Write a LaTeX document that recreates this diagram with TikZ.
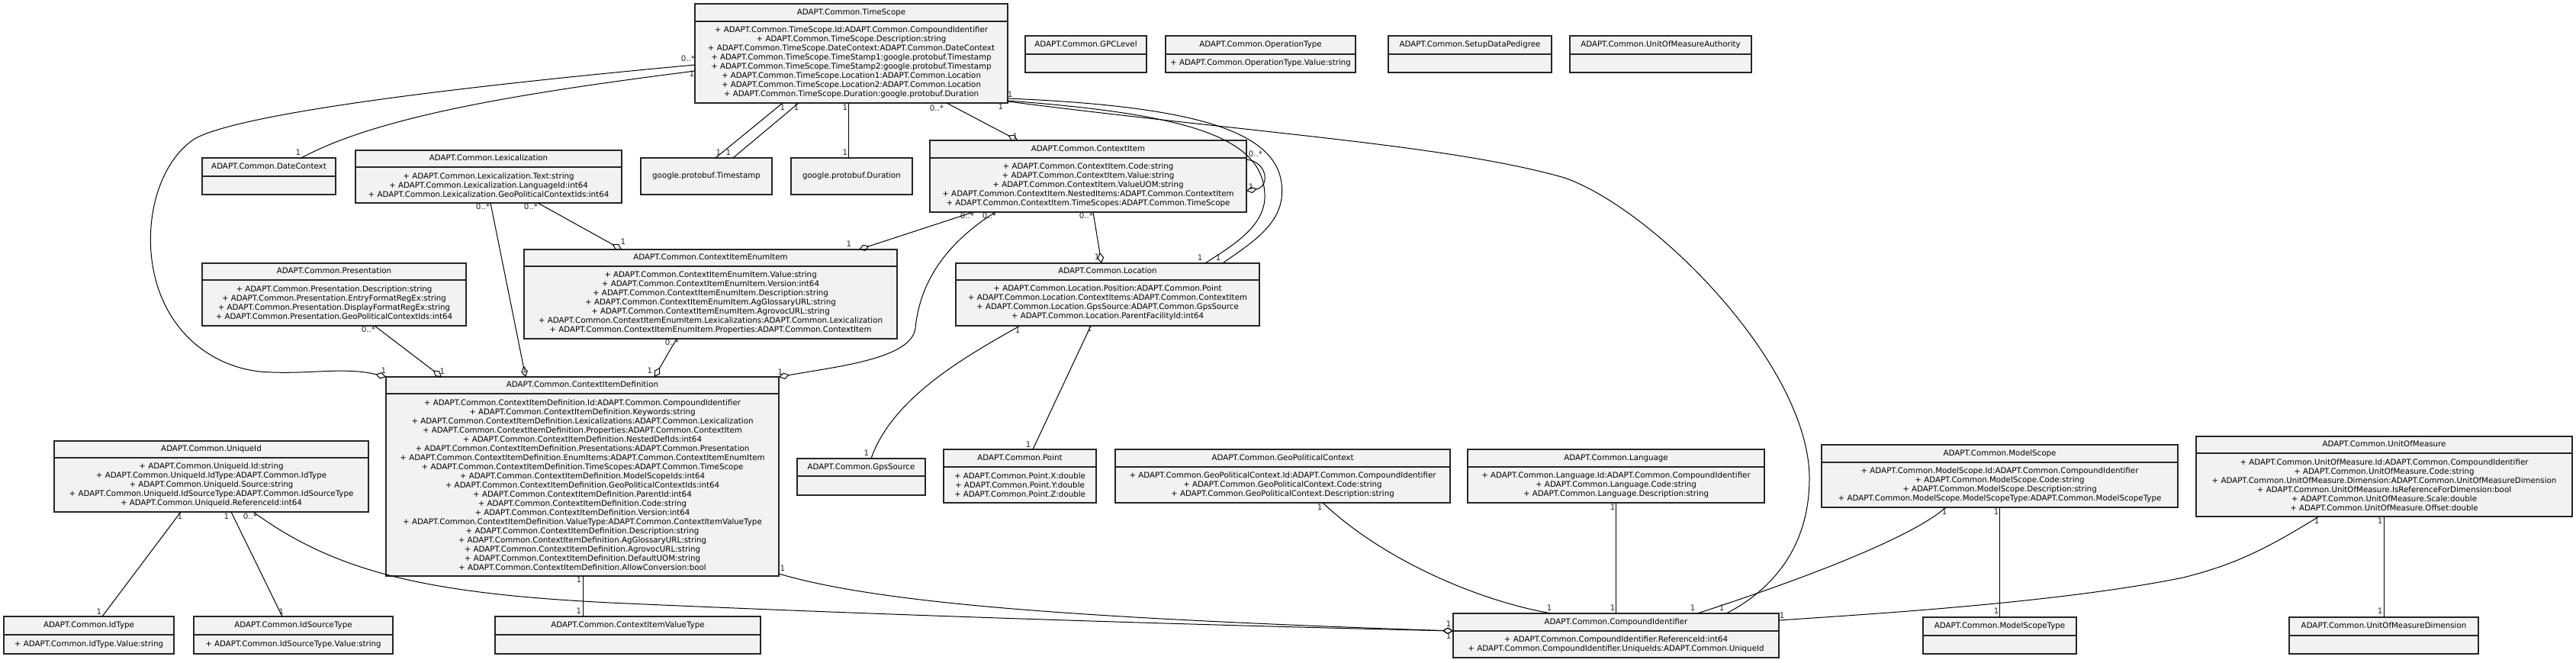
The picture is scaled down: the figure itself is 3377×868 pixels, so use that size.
\documentclass[tikz,border=0pt]{standalone}
\usepackage{fontspec}
\setmainfont{DejaVu Sans}
\usetikzlibrary{arrows.meta,fit}
\definecolor{umlfill}{HTML}{F2F2F2}
\newcommand\umlfont{\fontsize{7.7pt}{9pt}\selectfont}
\tikzset{
  umlbox/.style={draw=black!85, line width=1.3pt, fill=umlfill, inner sep=0pt, outer sep=0pt},
  umlsep/.style={draw=black!85, line width=1.3pt},
  umltitle/.style={inner sep=0pt, font=\umlfont, text height=5.8pt, text depth=1.7pt},
  umlattr/.style={inner sep=0pt, align=center, font=\umlfont},
  assoc/.style={draw=black, line width=0.75pt},
  aggr/.style={assoc, -{Diamond[open, length=10.5pt, width=6.5pt]}},
  mult/.style={inner sep=0pt, font=\umlfont, text=black!85},
}
% name, x1, y1, x2, y2, ydiv, title, attributes
\newcommand\umlclass[8]{%
  \node[umlbox, fit={(#2,#3) (#4,#5)}] (#1) {};
  \draw[umlsep] (#2,#6) -- (#4,#6);
  \node[umltitle] (#1-t) at ({(#2+#4)/2},{(#3+#6)/2}) {#7};
  \node[umlattr] (#1-a) at ({(#2+#4)/2},{(#6+#5)/2}) {#8};
}
% name, x1, y1, x2, y2, text
\newcommand\umlsimple[6]{%
  \node[umlbox, fit={(#2,#3) (#4,#5)}] (#1) {};
  \node[umltitle] (#1-t) at ({(#2+#4)/2},{(#3+#5)/2}) {#6};
}
\begin{document}
\begin{tikzpicture}[x=0.75pt,y=-0.75pt]
\useasboundingbox (0,0) rectangle (3377,868);
\fill[white] (0,0) rectangle (3377,868);

% ---------------- classes ----------------
\umlclass{ts}{911}{5}{1321}{135}{28}{ADAPT.Common.TimeScope}{%
+ ADAPT.Common.TimeScope.Id:ADAPT.Common.CompoundIdentifier\\
+ ADAPT.Common.TimeScope.Description:string\\
+ ADAPT.Common.TimeScope.DateContext:ADAPT.Common.DateContext\\
+ ADAPT.Common.TimeScope.TimeStamp1:google.protobuf.Timestamp\\
+ ADAPT.Common.TimeScope.TimeStamp2:google.protobuf.Timestamp\\
+ ADAPT.Common.TimeScope.Location1:ADAPT.Common.Location\\
+ ADAPT.Common.TimeScope.Location2:ADAPT.Common.Location\\
+ ADAPT.Common.TimeScope.Duration:google.protobuf.Duration}

\umlclass{gpc}{1344}{47}{1503}{95}{71}{ADAPT.Common.GPCLevel}{}
\umlclass{opt}{1528}{47}{1777}{95}{71}{ADAPT.Common.OperationType}{+ ADAPT.Common.OperationType.Value:string}
\umlclass{sdp}{1820}{47}{2034}{95}{71}{ADAPT.Common.SetupDataPedigree}{}
\umlclass{uoma}{2058}{47}{2296}{95}{71}{ADAPT.Common.UnitOfMeasureAuthority}{}

\umlclass{ci}{1219}{184}{1634}{278}{207}{ADAPT.Common.ContextItem}{%
+ ADAPT.Common.ContextItem.Code:string\\
+ ADAPT.Common.ContextItem.Value:string\\
+ ADAPT.Common.ContextItem.ValueUOM:string\\
+ ADAPT.Common.ContextItem.NestedItems:ADAPT.Common.ContextItem\\
+ ADAPT.Common.ContextItem.TimeScopes:ADAPT.Common.TimeScope}

\umlclass{loc}{1253}{345}{1651}{427}{367}{ADAPT.Common.Location}{%
+ ADAPT.Common.Location.Position:ADAPT.Common.Point\\
+ ADAPT.Common.Location.ContextItems:ADAPT.Common.ContextItem\\
+ ADAPT.Common.Location.GpsSource:ADAPT.Common.GpsSource\\
+ ADAPT.Common.Location.ParentFacilityId:int64}

\umlclass{dc}{265}{207}{440}{255}{231}{ADAPT.Common.DateContext}{}

\umlclass{lex}{466}{197}{815}{266}{219}{ADAPT.Common.Lexicalization}{%
+ ADAPT.Common.Lexicalization.Text:string\\
+ ADAPT.Common.Lexicalization.LanguageId:int64\\
+ ADAPT.Common.Lexicalization.GeoPoliticalContextIds:int64}

\umlsimple{tstamp}{840}{207}{1012}{255}{google.protobuf.Timestamp}
\umlsimple{dur}{1037}{207}{1196}{255}{google.protobuf.Duration}

\umlclass{pres}{265}{345}{611}{427}{367}{ADAPT.Common.Presentation}{%
+ ADAPT.Common.Presentation.Description:string\\
+ ADAPT.Common.Presentation.EntryFormatRegEx:string\\
+ ADAPT.Common.Presentation.DisplayFormatRegEx:string\\
+ ADAPT.Common.Presentation.GeoPoliticalContextIds:int64}

\umlclass{cei}{687}{327}{1176}{444}{349}{ADAPT.Common.ContextItemEnumItem}{%
+ ADAPT.Common.ContextItemEnumItem.Value:string\\
+ ADAPT.Common.ContextItemEnumItem.Version:int64\\
+ ADAPT.Common.ContextItemEnumItem.Description:string\\
+ ADAPT.Common.ContextItemEnumItem.AgGlossaryURL:string\\
+ ADAPT.Common.ContextItemEnumItem.AgrovocURL:string\\
+ ADAPT.Common.ContextItemEnumItem.Lexicalizations:ADAPT.Common.Lexicalization\\
+ ADAPT.Common.ContextItemEnumItem.Properties:ADAPT.Common.ContextItem}

\umlclass{cid}{506}{494}{1021}{755}{516}{ADAPT.Common.ContextItemDefinition}{%
+ ADAPT.Common.ContextItemDefinition.Id:ADAPT.Common.CompoundIdentifier\\
+ ADAPT.Common.ContextItemDefinition.Keywords:string\\
+ ADAPT.Common.ContextItemDefinition.Lexicalizations:ADAPT.Common.Lexicalization\\
+ ADAPT.Common.ContextItemDefinition.Properties:ADAPT.Common.ContextItem\\
+ ADAPT.Common.ContextItemDefinition.NestedDefIds:int64\\
+ ADAPT.Common.ContextItemDefinition.Presentations:ADAPT.Common.Presentation\\
+ ADAPT.Common.ContextItemDefinition.EnumItems:ADAPT.Common.ContextItemEnumItem\\
+ ADAPT.Common.ContextItemDefinition.TimeScopes:ADAPT.Common.TimeScope\\
+ ADAPT.Common.ContextItemDefinition.ModelScopeIds:int64\\
+ ADAPT.Common.ContextItemDefinition.GeoPoliticalContextIds:int64\\
+ ADAPT.Common.ContextItemDefinition.ParentId:int64\\
+ ADAPT.Common.ContextItemDefinition.Code:string\\
+ ADAPT.Common.ContextItemDefinition.Version:int64\\
+ ADAPT.Common.ContextItemDefinition.ValueType:ADAPT.Common.ContextItemValueType\\
+ ADAPT.Common.ContextItemDefinition.Description:string\\
+ ADAPT.Common.ContextItemDefinition.AgGlossaryURL:string\\
+ ADAPT.Common.ContextItemDefinition.AgrovocURL:string\\
+ ADAPT.Common.ContextItemDefinition.DefaultUOM:string\\
+ ADAPT.Common.ContextItemDefinition.AllowConversion:bool}

\umlclass{uid}{71}{578}{483}{671}{600}{ADAPT.Common.UniqueId}{%
+ ADAPT.Common.UniqueId.Id:string\\
+ ADAPT.Common.UniqueId.IdType:ADAPT.Common.IdType\\
+ ADAPT.Common.UniqueId.Source:string\\
+ ADAPT.Common.UniqueId.IdSourceType:ADAPT.Common.IdSourceType\\
+ ADAPT.Common.UniqueId.ReferenceId:int64}

\umlclass{idt}{5}{808}{228}{857}{832}{ADAPT.Common.IdType}{+ ADAPT.Common.IdType.Value:string}
\umlclass{idst}{254}{808}{515}{857}{832}{ADAPT.Common.IdSourceType}{+ ADAPT.Common.IdSourceType.Value:string}
\umlclass{civt}{649}{808}{997}{857}{832}{ADAPT.Common.ContextItemValueType}{}
\umlclass{gps}{1045}{601}{1213}{649}{624}{ADAPT.Common.GpsSource}{}

\umlclass{pt}{1237}{589}{1437}{659}{612}{ADAPT.Common.Point}{%
+ ADAPT.Common.Point.X:double\\
+ ADAPT.Common.Point.Y:double\\
+ ADAPT.Common.Point.Z:double}

\umlclass{gpctx}{1462}{589}{1901}{659}{612}{ADAPT.Common.GeoPoliticalContext}{%
+ ADAPT.Common.GeoPoliticalContext.Id:ADAPT.Common.CompoundIdentifier\\
+ ADAPT.Common.GeoPoliticalContext.Code:string\\
+ ADAPT.Common.GeoPoliticalContext.Description:string}

\umlclass{lang}{1924}{589}{2313}{659}{612}{ADAPT.Common.Language}{%
+ ADAPT.Common.Language.Id:ADAPT.Common.CompoundIdentifier\\
+ ADAPT.Common.Language.Code:string\\
+ ADAPT.Common.Language.Description:string}

\umlclass{cpid}{1905}{804}{2332}{862}{827}{ADAPT.Common.CompoundIdentifier}{%
+ ADAPT.Common.CompoundIdentifier.ReferenceId:int64\\
+ ADAPT.Common.CompoundIdentifier.UniqueIds:ADAPT.Common.UniqueId}

\umlclass{ms}{2388}{583}{2855}{665}{606}{ADAPT.Common.ModelScope}{%
+ ADAPT.Common.ModelScope.Id:ADAPT.Common.CompoundIdentifier\\
+ ADAPT.Common.ModelScope.Code:string\\
+ ADAPT.Common.ModelScope.Description:string\\
+ ADAPT.Common.ModelScope.ModelScopeType:ADAPT.Common.ModelScopeType}

\umlclass{mst}{2521}{809}{2722}{857}{833}{ADAPT.Common.ModelScopeType}{}

\umlclass{uom}{2879}{572}{3372}{677}{594}{ADAPT.Common.UnitOfMeasure}{%
+ ADAPT.Common.UnitOfMeasure.Id:ADAPT.Common.CompoundIdentifier\\
+ ADAPT.Common.UnitOfMeasure.Code:string\\
+ ADAPT.Common.UnitOfMeasure.Dimension:ADAPT.Common.UnitOfMeasureDimension\\
+ ADAPT.Common.UnitOfMeasure.IsReferenceForDimension:bool\\
+ ADAPT.Common.UnitOfMeasure.Scale:double\\
+ ADAPT.Common.UnitOfMeasure.Offset:double}

\umlclass{uomd}{3001}{809}{3249}{857}{833}{ADAPT.Common.UnitOfMeasureDimension}{}

% ---------------- connectors ----------------
% TimeScope -> ContextItemDefinition (big left loop)
\draw[aggr] ([shift={(0,80)}]ts.north west) .. controls (750,100) and (330,140) .. (255,182)
  .. controls (205,215) and (185,300) .. (205,370)
  .. controls (225,440) and (280,480) .. (340,487)
  .. controls (400,492) and (450,480) .. (cid.north west);
% TimeScope -> DateContext
\draw[assoc] ([shift={(0,88)}]ts.north west) .. controls (700,120) and (500,150) .. ([shift={(130,0)}]dc.north west);
% TimeScope -> Timestamp (x2)
\draw[assoc] ([shift={(115,130)}]ts.north west) -- ([shift={(98,0)}]tstamp.north west);
\draw[assoc] ([shift={(136,130)}]ts.north west) -- ([shift={(121,0)}]tstamp.north west);
% TimeScope -> Duration
\draw[assoc] ([shift={(201,130)}]ts.north west) -- ([shift={(75,0)}]dur.north west);
% TimeScope -> ContextItem
\draw[aggr] ([shift={(330,130)}]ts.north west) -- ([shift={(115,0)}]ci.north west);
% TimeScope -> Location (x2)
\draw[assoc] ([shift={(410,127)}]ts.north west) .. controls (1560,150) and (1660,180) .. (1658,260)
  .. controls (1656,300) and (1610,325) .. ([shift={(327,0)}]loc.north west);
\draw[assoc] ([shift={(410,124)}]ts.north west) .. controls (1580,140) and (1690,175) .. (1680,260)
  .. controls (1675,300) and (1630,325) .. ([shift={(350,0)}]loc.north west);
% TimeScope -> CompoundIdentifier
\draw[assoc] ([shift={(410,128)}]ts.north west) .. controls (1650,175) and (1900,190) .. (2051,233)
  .. controls (2170,275) and (2372,480) .. (2372,627)
  .. controls (2372,720) and (2320,775) .. ([shift={(358,0)}]cpid.north west);
% ContextItem self loop
\draw[aggr] ([shift={(415,25)}]ci.north west) .. controls (1662,212) and (1665,245) .. ([shift={(415,66)}]ci.north west);
% ContextItem -> Location
\draw[aggr] ([shift={(214,94)}]ci.north west) -- ([shift={(191,0)}]loc.north west);
% ContextItem -> ContextItemEnumItem
\draw[aggr] ([shift={(57,94)}]ci.north west) -- ([shift={(439,0)}]cei.north west);
% ContextItem -> ContextItemDefinition
\draw[aggr] ([shift={(86,94)}]ci.north west) .. controls (1230,325) and (1205,380) .. (1200,430)
  .. controls (1195,470) and (1100,480) .. (cid.north east);
% Lexicalization -> EnumItem, -> Definition
\draw[aggr] ([shift={(239,69)}]lex.north west) -- ([shift={(128,0)}]cei.north west);
\draw[aggr] ([shift={(177,69)}]lex.north west) -- ([shift={(183,0)}]cid.north west);
% Presentation -> Definition
\draw[aggr] ([shift={(226,82)}]pres.north west) -- ([shift={(73,0)}]cid.north west);
% EnumItem -> Definition
\draw[aggr] ([shift={(200,117)}]cei.north west) -- ([shift={(352,0)}]cid.north west);
% Definition -> ValueType
\draw[assoc] ([shift={(258,261)}]cid.north west) -- ([shift={(115,0)}]civt.north west);
% Definition -> CompoundIdentifier
\draw[aggr] ([shift={(515,258)}]cid.north west) .. controls (1150,790) and (1400,810) .. ([shift={(0,23)}]cpid.north west);
% UniqueId -> CompoundIdentifier
\draw[aggr] ([shift={(261,93)}]uid.north west) .. controls (440,750) and (560,778) .. (800,790)
  .. controls (1200,808) and (1600,820) .. ([shift={(0,23)}]cpid.north west);
% UniqueId -> IdType, IdSourceType
\draw[assoc] ([shift={(166,93)}]uid.north west) -- ([shift={(129,0)}]idt.north west);
\draw[assoc] ([shift={(232,93)}]uid.north west) -- ([shift={(116,0)}]idst.north west);
% Location -> GpsSource, Point
\draw[assoc] ([shift={(84,82)}]loc.north west) .. controls (1270,465) and (1170,520) .. ([shift={(97,0)}]gps.north west);
\draw[assoc] ([shift={(177,82)}]loc.north west) -- ([shift={(117,0)}]pt.north west);
% GeoPoliticalContext, Language, ModelScope -> CompoundIdentifier
\draw[assoc] ([shift={(272,70)}]gpctx.north west) .. controls (1820,740) and (1950,790) .. ([shift={(129,0)}]cpid.north west);
\draw[assoc] ([shift={(194,70)}]lang.north west) -- ([shift={(213,0)}]cpid.north west);
\draw[assoc] ([shift={(163,82)}]ms.north west) .. controls (2500,710) and (2330,770) .. ([shift={(320,0)}]cpid.north west);
% ModelScope -> ModelScopeType
\draw[assoc] ([shift={(233,82)}]ms.north west) -- ([shift={(100,0)}]mst.north west);
% UnitOfMeasure -> CompoundIdentifier, Dimension
\draw[assoc] ([shift={(161,105)}]uom.north west) .. controls (2970,720) and (2930,740) .. (2862,757)
  .. controls (2700,790) and (2450,805) .. ([shift={(427,9)}]cpid.north west);
\draw[assoc] ([shift={(246,105)}]uom.north west) -- ([shift={(124,0)}]uomd.north west);

% ---------------- multiplicities ----------------
\foreach \n/\x/\y/\t in {
  1/902/77/0..*, 2/503/486/1, 3/907/97/1, 4/391/200/1,
  5/1026/141/1, 6/1044/141/1, 7/942/200/1, 8/955/200/1,
  9/1108/141/1, 10/1108/200/1, 11/1228/142/0..*, 12/1331/179/1,
  13/1324/124/1, 14/1312/140/1, 15/1573/338/1, 16/1597/338/1,
  17/2257/797/1, 18/1646/202/0..*, 19/1640/245/1,
  20/1424/283/0..*, 21/1438/337/1, 22/1268/283/0..*, 23/1113/320/1,
  24/1297/283/0..*, 25/1023/488/1, 26/696/271/0..*, 27/817/317/1,
  28/633/271/0..*, 29/688/485/1, 30/483/432/0..*, 31/580/487/1,
  32/881/449/0..*, 33/852/486/1, 34/759/760/1, 35/759/801/1,
  36/1026/745/1, 37/1899/818/1, 38/1899/834/1, 39/328/677/0..*,
  40/236/677/1, 41/130/802/1, 42/297/677/1, 43/369/802/1,
  44/1334/433/1, 45/1136/594/1, 46/1428/431/1, 47/1348/583/1,
  48/1730/665/1, 49/2031/797/1, 50/2114/665/1, 51/2114/797/1,
  52/2549/671/1, 53/2219/797/1, 54/2617/671/1, 55/2617/801/1,
  56/3037/683/1, 57/2336/807/1, 58/3120/683/1, 59/3120/801/1}
  \node[mult] (m\n) at (\x,\y) {\t};
\end{tikzpicture}
\end{document}
